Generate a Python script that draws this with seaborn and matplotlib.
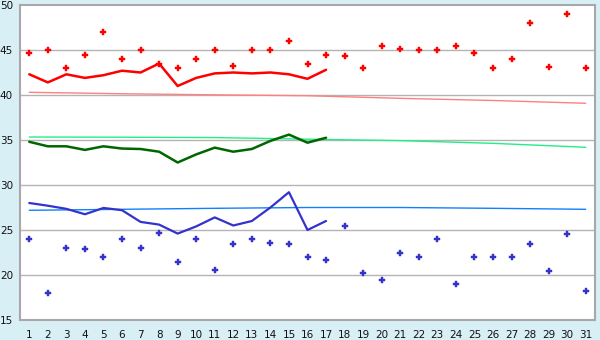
import matplotlib
matplotlib.use("Agg")
import matplotlib.pyplot as plt
import seaborn as sns
import pandas as pd

days = list(range(1, 32))
line_days = list(range(1, 18))

max_points = [44.7, 45.0, 43.0, 44.4, 47.0, 44.0, 45.0, 43.5, 43.0, 44.0,
              45.0, 43.2, 45.0, 45.0, 46.0, 43.5, 44.4, 44.3, 43.0, 45.4,
              45.1, 45.0, 45.0, 45.4, 44.7, 43.0, 44.0, 48.0, 43.1, 49.0, 43.0]
min_points = [24.0, 18.0, 23.0, 22.9, 22.0, 24.0, 23.0, 24.7, 21.5, 24.0,
              20.6, 23.5, 24.0, 23.6, 23.4, 22.0, 21.7, 25.5, 20.2, 19.5,
              22.4, 22.0, 24.0, 19.0, 22.0, 22.0, 22.0, 23.5, 20.5, 24.6, 18.2]

red_line = [42.3, 41.4, 42.3, 41.9, 42.2, 42.7, 42.5, 43.5, 41.0, 41.9,
            42.4, 42.5, 42.4, 42.5, 42.3, 41.8, 42.8]
green_line = [34.8, 34.3, 34.3, 33.9, 34.3, 34.05, 34.0, 33.7, 32.5, 33.4,
              34.15, 33.7, 34.0, 34.9, 35.6, 34.7, 35.25]
blue_line = [28.0, 27.7, 27.35, 26.75, 27.45, 27.2, 25.9, 25.6, 24.6, 25.4,
             26.4, 25.5, 26.0, 27.5, 29.2, 25.0, 26.0]

trend_days = [1, 6, 11, 16, 21, 26, 31]
pink_trend = [40.30, 40.14, 40.02, 39.92, 39.63, 39.39, 39.08]
green_trend = [35.33, 35.31, 35.27, 35.09, 34.93, 34.63, 34.19]
blue_trend = [27.19, 27.30, 27.41, 27.50, 27.50, 27.41, 27.30]

yticks = [15, 20, 25, 30, 35, 40, 45, 50]

sns.set_style("white")
plt.rcParams['font.family'] = ['DejaVu Sans']

fig = plt.figure(figsize=(6, 3.4), dpi=100)
fig.patch.set_facecolor("#d9eff6")
ax = fig.add_axes([20 / 600, 1 - 320 / 340, 575 / 600, 315 / 340])
ax.set_facecolor("white")

for yv in yticks[1:-1]:
    ax.axhline(yv, color="#b4b4b4", lw=1.0, zorder=0)

tr = pd.DataFrame({"day": trend_days, "pink": pink_trend,
                   "green": green_trend, "blue": blue_trend})
sns.lineplot(data=tr, x="day", y="pink", color="#ff8080", lw=1.0, ax=ax, zorder=2)
sns.lineplot(data=tr, x="day", y="green", color="#22ee88", lw=1.0, ax=ax, zorder=2)
sns.lineplot(data=tr, x="day", y="blue", color="#1080ff", lw=1.0, ax=ax, zorder=2)

ld = pd.DataFrame({"day": line_days, "red": red_line,
                   "green": green_line, "blue": blue_line})
sns.lineplot(data=ld, x="day", y="red", color="#ff0000", lw=1.8, ax=ax, zorder=3)
sns.lineplot(data=ld, x="day", y="green", color="#006600", lw=1.8, ax=ax, zorder=3)
sns.lineplot(data=ld, x="day", y="blue", color="#3333cc", lw=1.6, ax=ax, zorder=3)

pts = pd.DataFrame({"day": days, "max": max_points, "min": min_points})
sns.scatterplot(data=pts, x="day", y="max", marker="P", s=24, color="#ff0000",
                edgecolor="#ff0000", linewidth=0.3, ax=ax, zorder=4)
sns.scatterplot(data=pts, x="day", y="min", marker="P", s=18, color="#3333cc",
                edgecolor="#3333cc", linewidth=0.3, ax=ax, zorder=4)

ax.set_xlim(0.5, 31.5)
ax.set_ylim(15, 50)
ax.set_xticks(days)
ax.set_xticklabels([str(d) for d in days])
ax.set_yticks(yticks)
ax.set_yticklabels([str(v) for v in yticks])
ax.set_xlabel("")
ax.set_ylabel("")
for s in ax.spines.values():
    s.set_color("#a8a8a8")
    s.set_linewidth(1.5)
ax.tick_params(axis="x", direction="out", length=5, width=1.0,
               color="#222222", labelsize=7.5, labelcolor="#111111", pad=2)
ax.tick_params(axis="y", direction="out", length=4, width=1.0,
               color="#222222", labelsize=7.5, labelcolor="#111111", pad=1)

fig.savefig("out.png", dpi=100, facecolor=fig.get_facecolor())
